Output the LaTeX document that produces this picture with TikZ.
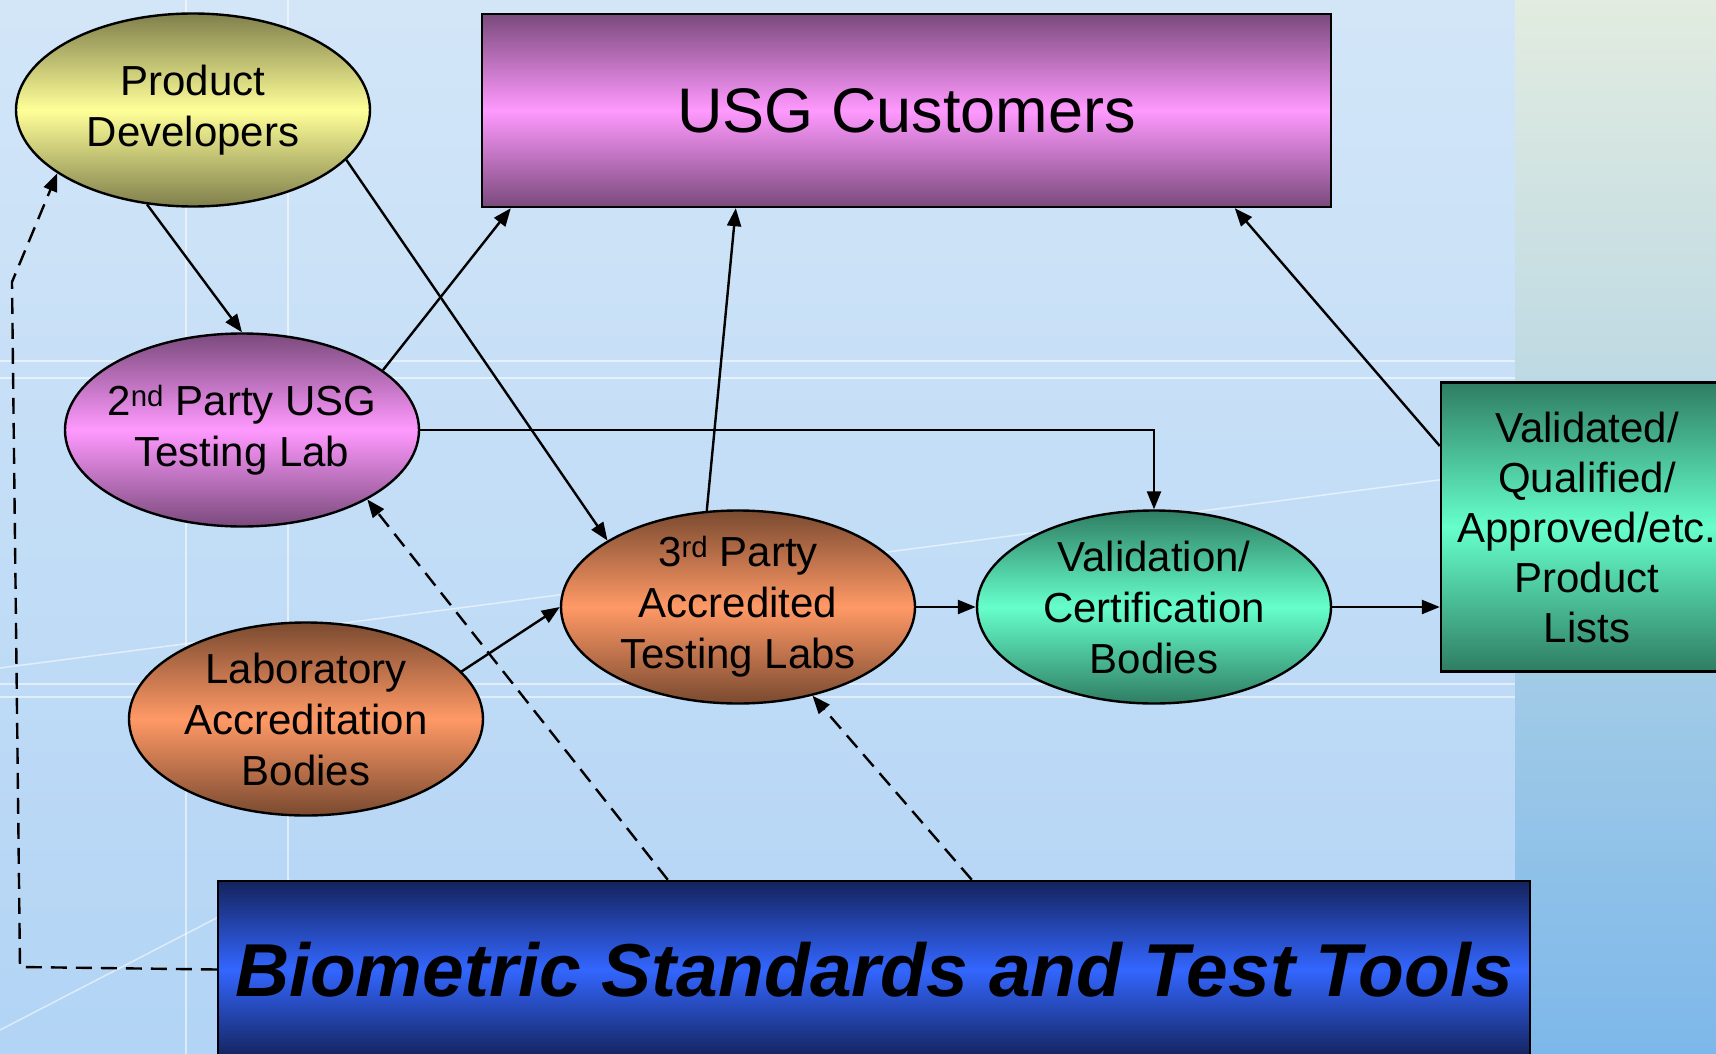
\documentclass[tikz,border=0pt]{standalone}
\usepackage{fontspec}
\setmainfont{Liberation Sans}
\usetikzlibrary{shapes.geometric,arrows.meta,calc,shadings}

\definecolor{fundoA}{HTML}{D3E6F8}
\definecolor{fundoB}{HTML}{B2D4F5}
\definecolor{faixaA}{HTML}{E2ECE0}
\definecolor{faixaB}{HTML}{7DB8EA}
\definecolor{amareloE}{HTML}{7F7F4C}
\definecolor{amareloC}{HTML}{FFFF99}
\definecolor{roxoE}{HTML}{7A4A7C}
\definecolor{roxoC}{HTML}{FF99FF}
\definecolor{laranjaE}{HTML}{7A4A30}
\definecolor{laranjaC}{HTML}{FF9966}
\definecolor{verdeE}{HTML}{2F7D62}
\definecolor{verdeC}{HTML}{66FFCC}
\definecolor{azulE}{HTML}{14235C}
\definecolor{azulC}{HTML}{3366FF}

\tikzset{
  elip/.style={ellipse, draw=black, line width=2.4pt, minimum width=354pt, minimum height=193pt,
    inner xsep=-30pt, inner ysep=-8pt, align=center, font=\fontsize{42}{51}\selectfont},
  caixa/.style={rectangle, draw=black, line width=2.4pt, inner sep=0pt, align=center},
  amarelo/.style={top color=amareloE, bottom color=amareloE, middle color=amareloC},
  rosa/.style={top color=roxoE, bottom color=roxoE, middle color=roxoC},
  laranja/.style={top color=laranjaE, bottom color=laranjaE, middle color=laranjaC},
  verde/.style={top color=verdeE, bottom color=verdeE, middle color=verdeC},
  azul/.style={top color=azulE, bottom color=azulE, middle color=azulC},
  seta/.style={-{Triangle[length=18pt,width=14pt]}, line width=2.4pt},
  tracejada/.style={seta, dash pattern=on 16pt off 9pt},
  risco/.style={white, opacity=0.55, line width=1.5pt}
}

\begin{document}
\begin{tikzpicture}[x=1pt,y=-1pt] %coordenadas em pixels
	%Fundo
	\clip (0,0) rectangle (1716,1054);
	\fill[top color=fundoA, bottom color=fundoB] (0,0) rectangle (1716,1054);
	\fill[top color=faixaA, bottom color=faixaB] (1515,0) rectangle (1716,1054);
	\draw[risco] (0,361) -- (1515,361);
	\draw[risco] (0,378) -- (1515,378);
	\draw[risco] (0,684) -- (1515,684);
	\draw[risco] (0,697) -- (1515,697);
	\draw[risco] (186,0) -- (186,1054);
	\draw[risco] (288,0) -- (288,1054);
	\draw[risco] (0,668) -- (1515,470);
	\draw[risco] (0,1030) -- (290,880);
	%Caixas e elipses
	\node[elip, amarelo] (pd) at (193,110) {Product\\Developers};
	\node[caixa, rosa, minimum width=849pt, minimum height=193pt,
	      font=\fontsize{63}{75}\selectfont] (usg) at (906.5,110.5) {USG Customers};
	\node[elip, rosa] (sec) at (242,430) {2\textsuperscript{nd} Party USG\\Testing Lab};
	\node[elip, laranja] (lab) at (306,719) {Laboratory\\Accreditation\\Bodies};
	\node[elip, laranja] (thd) at (738,607) {3\textsuperscript{rd} Party\\Accredited\\Testing Labs};
	\node[elip, verde] (val) at (1154,607) {Validation/\\Certification\\Bodies};
	\node[caixa, verde, minimum width=292pt, minimum height=289pt,
	      font=\fontsize{42}{50}\selectfont] (vlist) at (1587,527) {Validated/\\Qualified/\\Approved/etc.\\Product\\Lists};
	\node[caixa, azul, minimum width=1312pt, minimum height=177pt,
	      font=\fontsize{75}{90}\selectfont\bfseries\itshape] (bio) at (874,969.5) {Biometric Standards and Test Tools};
	%Ligacoes
	\draw[seta] (pd.244) -- (sec.north);
	\draw[seta] (pd.342) -- (thd.153);
	\draw[seta] (sec.23.5) -- ($(usg.south west)+(30,0)$);
	\draw[seta] (thd.108) -- ($(usg.south west)+(255,0)$);
	\draw[seta] ($(vlist.west)+(0,-81)$) -- ($(usg.south west)+(754,0)$);
	\draw[seta] (sec.east) -| (val.north);
	\draw[seta] (lab.17) -- (thd.west);
	\draw[seta] (thd.east) -- (val.west);
	\draw[seta] (val.east) -- (val.east -| vlist.west);
	%Ligacoes tracejadas
	\coordinate (cA) at (20,967);
	\coordinate (cB) at (12,282);
	\draw[tracejada] ($(bio.north west)+(451,0)$) -- (sec.331);
	\draw[tracejada] ($(bio.north west)+(755,0)$) -- (thd.310);
	\draw[tracejada] (bio.west) -- (cA) -- (cB) -- (pd.205);
\end{tikzpicture}
\end{document}
